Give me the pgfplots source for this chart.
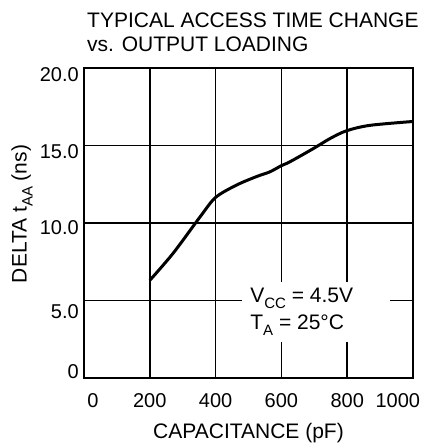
\documentclass[border=0pt]{standalone}
\usepackage{pgfplots}
\pgfplotsset{compat=1.18}
\usepackage{fontspec}
\setmainfont{Liberation Sans}
\newcommand{\sub}[1]{\raisebox{-0.28em}{\fontsize{15bp}{15bp}\selectfont #1}}
\begin{document}
\fontsize{21bp}{25bp}\selectfont
\begin{tikzpicture}
\begin{axis}[
  scale only axis,
  width=329bp, height=310bp,
  xmin=0, xmax=1000, ymin=0, ymax=20,
  axis line style={black, line width=1.5bp},
  /pgf/number format/assume math mode=true,
  tick label style={font=\fontsize{20bp}{24bp}\selectfont},
  major tick length=0pt,
  xtick={27,200,400,600,800,954},
  xticklabels={0,200,400,600,800,1000},
  xticklabel style={anchor=base, yshift=-29bp},
  ytick={0.39,4.26,9.68,14.58,19.55},
  yticklabels={0,5.0,10.0,15.0,20.0},
  yticklabel style={xshift=2bp},
  extra x ticks={200,400,600,800},
  extra x tick labels={},
  extra y ticks={5,10,15},
  extra y tick labels={},
  extra tick style={grid=major, major grid style={black, line width=1.5bp}, major tick length=0pt},
  clip=false,
]
\addplot[black, line width=3bp, smooth] coordinates {
  (200,6.3) (271,8.05) (353,10.4) (400,11.65) (464,12.45) (525,13.0) (565,13.3)
  (600,13.7) (626,13.95) (697,14.8) (748,15.45) (798,15.95) (869,16.3) (1000,16.55)
};
\node[fill=white, inner sep=0pt, minimum width=148bp, minimum height=60bp] at (axis cs:705,4.26) {};
\node[align=left, anchor=west, inner sep=0pt, font=\fontsize{21bp}{27bp}\selectfont] at (axis cs:505,4.26)
  {V\sub{CC} = 4.5V\\T\sub{A} = 25\textdegree C};
\node[anchor=south west, align=left, inner sep=0pt, font=\fontsize{21bp}{24bp}\selectfont] at ([xshift=3bp,yshift=16bp]rel axis cs:0,1)
  {TYPICAL ACCESS TIME CHANGE\\vs. OUTPUT LOADING};
\node[anchor=base, font=\fontsize{21bp}{25bp}\selectfont] at ([yshift=-60bp]rel axis cs:0.5,0) {CAPACITANCE (pF)};
\node[rotate=90, anchor=center, font=\fontsize{21bp}{25bp}\selectfont] at ([xshift=-62bp]rel axis cs:0,0.529) {DELTA t\sub{AA} (ns)};
\coordinate (ll) at (rel axis cs:0,0);
\coordinate (ur) at (rel axis cs:1,1);
\end{axis}
\pgfresetboundingbox
\path ([shift={(-84bp,-67bp)}]ll) rectangle ([shift={(12bp,68bp)}]ur);
\end{tikzpicture}
\end{document}
